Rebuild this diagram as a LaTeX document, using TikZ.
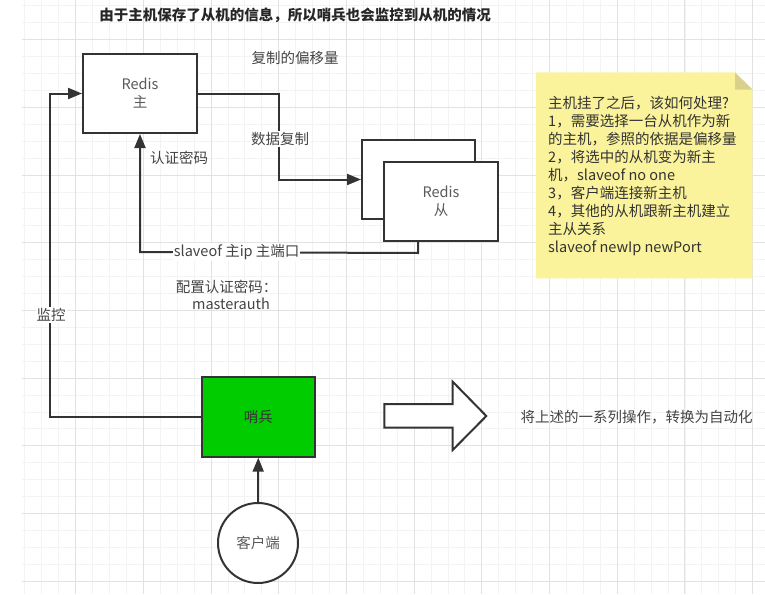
\documentclass[tikz,border=0pt]{standalone}
\usepackage{fontspec}
\setmainfont{Noto Sans CJK SC}
\usetikzlibrary{arrows.meta,calc}
\definecolor{ln}{HTML}{333333}
\definecolor{txt}{HTML}{444444}
\definecolor{ntxt}{HTML}{5A5A5A}
\definecolor{sgreen}{HTML}{00CC00}
\definecolor{noteY}{HTML}{FBF39C}
\definecolor{noteF}{HTML}{D8D18C}
\definecolor{gmin}{HTML}{F3F3F3}
\definecolor{gmaj}{HTML}{E2E2E2}
\newcommand\myfs{\fontsize{14.5}{18}\selectfont}
\begin{document}
\begin{tikzpicture}[x=1pt,y=-1pt,
  conn/.style={draw=ln,line width=2pt},
  arr/.style={conn,-{Triangle[length=14pt,width=11pt]}},
  box/.style={draw=ln,line width=2pt,fill=white,minimum width=114pt,minimum height=79pt,align=center,text=ntxt,font=\myfs,inner sep=0pt},
  lbl/.style={text=txt,font=\myfs,inner sep=1pt},
  wlbl/.style={lbl,fill=white}]
\useasboundingbox (0,0) rectangle (765,594);
\fill[white] (0,0) rectangle (765,594);
% grid
\begin{scope}
\clip (22,0) rectangle (765,594);
\foreach \k in {-3,...,41} \draw[gmin,line width=0.8pt] ({75.6+16.925*\k},0) -- ++(0,594);
\foreach \k in {-2,...,33} \draw[gmin,line width=0.8pt] (22,{39.6+16.925*\k}) -- ++(743,0);
\foreach \k in {0,...,10} \draw[gmaj,line width=1pt] ({75.6+67.7*\k},0) -- ++(0,594);
\foreach \k in {0,...,8} \draw[gmaj,line width=1pt] (22,{39.6+67.7*\k}) -- ++(743,0);
\end{scope}

% title and texts
\node[lbl,text=black!85,font=\myfs\bfseries] (title) at (295,15) {由于主机保存了从机的信息，所以哨兵也会监控到从机的情况};
\node[lbl] (offset) at (295,58) {复制的偏移量};

% boxes
\node[box] (master) at (140,93.5) {Redis\\主};
\node[box,minimum width=113pt] (slaveback) at (418.5,179.5) {};
\node[box] (slavefront) at (441,201.5) {Redis\\从};
\node[box,fill=sgreen,text=black!80,minimum width=113pt,minimum height=80pt] (sentinel) at (258.3,416.7) {哨兵};
\node[draw=ln,line width=2pt,fill=white,circle,minimum size=80pt,inner sep=0pt,text=ntxt,font=\myfs] (client) at (258,543) {客户端};

% coordinates for bends
\coordinate (m1) at (50,416.7);
\coordinate (m2) at (50,93.5);
\coordinate (d1) at (279.3,93.5);
\coordinate (d2) at (279.3,179.5);
\coordinate (s0) at ($(slavefront.south)+(-23,0)$);
\coordinate (s1) at ($(s0)+(0,11)$);
\coordinate (s2) at (140,252);

% connectors
\draw[arr] (sentinel.west) -- (m1) -- (m2) -- (master.west);
\draw[arr] (master.east) -- (d1) -- (d2) -- (slaveback.west);
\draw[arr] (s0) -- (s1) -- (s2) -- (master.south);
\draw[arr] (client.north) -- (sentinel.south);

% connector labels
\node[wlbl] (lmon) at (51,315) {监控};
\node[wlbl] (lcopy) at (280,139) {数据复制};
\node[wlbl] (lslave) at (236.7,252) {slaveof 主ip 主端口};
\node[lbl,anchor=west] (lauth) at (149,158.3) {认证密码};
\node[lbl] (lcfg1) at (226.5,287) {配置认证密码：};
\node[lbl] (lcfg2) at (231,303.5) {masterauth};

% block arrow
\draw[draw=ln,line width=2pt,fill=white,line join=miter]
  (384.4,404) -- (452.7,404) -- (452.7,381.7) -- (486.3,416) -- (452.7,450) -- (452.7,427.7) -- (384.4,427.7) -- cycle;
\node[lbl] (auto) at (636.6,416.7) {将上述的一系列操作，转换为自动化};

% note
\fill[noteY] (536,72.3) -- (735,72.3) -- (752.3,89.5) -- (752.3,278.3) -- (536,278.3) -- cycle;
\fill[noteF] (735,72.3) -- (752.3,89.5) -- (735,89.5) -- cycle;
\node[lbl,anchor=west,align=left,text=black!80,inner sep=0pt,font=\fontsize{14.5}{18.1}\selectfont] (notetext) at (548,176)
 {主机挂了之后，该如何处理?\\
  1，需要选择一台从机作为新\\
  的主机，参照的依据是偏移量\\
  2，将选中的从机变为新主\\
  机，slaveof no one\\
  3，客户端连接新主机\\
  4，其他的从机跟新主机建立\\
  主从关系\\
  slaveof newIp newPort};
\end{tikzpicture}
\end{document}
